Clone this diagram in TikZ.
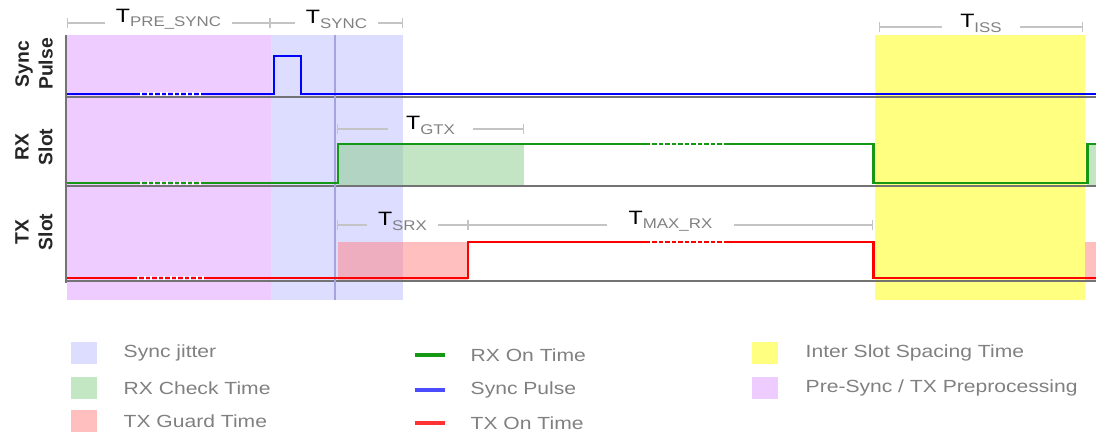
\documentclass[tikz,border=0pt]{standalone}
\usepackage{fontspec}
\setmainfont{Liberation Sans}
\usetikzlibrary{positioning,arrows.meta,calc}

\definecolor{presync}{HTML}{EECCFF}
\definecolor{jitter}{HTML}{DDDDFF}
\definecolor{issfill}{HTML}{FFFF80}
\definecolor{rxfill}{HTML}{88CC88}
\definecolor{txfill}{HTML}{FF8080}
\definecolor{rxline}{HTML}{159915}
\definecolor{syncline}{HTML}{0000FF}
\definecolor{txline}{HTML}{FF0000}
\definecolor{dimgray}{HTML}{C4C4C4}
\definecolor{txtgray}{HTML}{808080}
\definecolor{marker}{HTML}{A4A4DC}

% text in the reference is stretched sideways
\newcommand{\wide}[1]{\scalebox{1.2}[1]{#1}}
\newcommand{\tlab}[1]{\wide{{\fontsize{11}{11}\selectfont T}\raisebox{-2.5pt}{\fontsize{8}{8}\selectfont\color{txtgray}#1}}}

\begin{document}
\begin{tikzpicture}[x=0.02cm, y=-0.02cm,
  axisline/.style={draw=black!55, line width=1.1pt},
  sig/.style={line width=1.7pt},
  dimline/.style={draw=dimgray, line width=0.8pt},
  dimbar/.style={dimline, {Bar[width=6pt]}-},
  dimlabel/.style={inner xsep=6pt, inner ysep=0.5pt, yshift=2pt},
  breakmark/.style={draw=white, line width=2.2pt, dash pattern=on 1.3pt off 2.4pt},
  rowlabel/.style={rotate=90, align=center, text=black!85,
    font=\fontsize{11}{13.5}\selectfont\bfseries},
  swatch/.style={minimum width=5.2mm, minimum height=4.4mm, inner sep=0pt},
  keyline/.style={minimum width=6mm, minimum height=0.75mm, inner sep=0pt},
  keytext/.style={anchor=west, inner sep=0pt, text=txtgray,
    font=\fontsize{10}{12}\selectfont}]
  \useasboundingbox (0,0) rectangle (1096,432);

  % shaded time windows
  \fill[presync] (67,35) rectangle (271,300);
  \fill[jitter]  (271,35) rectangle (403,300);
  \fill[issfill] (875,35) rectangle (1085,300);
  \fill[rxfill, fill opacity=0.5] (338,144) rectangle (524,185);
  \fill[rxfill, fill opacity=0.5] (1087,144) rectangle (1096,185);
  \fill[txfill, fill opacity=0.5] (338,242) rectangle (468,280);
  \fill[txfill, fill opacity=0.5] (1085,242) rectangle (1096,280);

  % axes
  \draw[axisline] (66,35) -- (66,283);
  \draw[axisline] (67,97) -- (1096,97);
  \draw[axisline] (67,186) -- (1096,186);
  \draw[axisline] (67,281) -- (1096,281);
  \draw[marker, line width=1pt] (335,35) -- (335,300);

  % signals
  \draw[sig, syncline] (67,94) -- (274,94) -- (274,56) -- (301,56) -- (301,94) -- (1096,94);
  \draw[sig, rxline] (67,183) -- (338,183) -- (338,144) -- (873,144)
    -- (873,183) -- (1087,183) -- (1087,144) -- (1096,144);
  \draw[sig, txline] (67,278) -- (468,278) -- (468,242) -- (873,242)
    -- (873,278) -- (1096,278);

  % breaks in the time axis
  \draw[breakmark] (140,94) -- (202,94);
  \draw[breakmark] (140,183) -- (202,183);
  \draw[breakmark] (137,278) -- (207,278);
  \draw[breakmark] (650,144) -- (727,144);
  \draw[breakmark] (650,242) -- (727,242);

  % row labels
  \node[rowlabel] (syncrow) at (34,64)  {Sync\\Pulse};
  \node[rowlabel] (rxrow)   at (34,147) {RX\\Slot};
  \node[rowlabel] (txrow)   at (34,232) {TX\\Slot};

  % dimensions
  \coordinate (pre0) at (67,23);
  \coordinate (pre1) at (270,23);
  \coordinate (syn1) at (403,23);
  \coordinate (gtx0) at (337,129);
  \coordinate (gtx1) at (524,129);
  \coordinate (srx0) at (337,225);
  \coordinate (srx1) at (468,225);
  \coordinate (mrx1) at (873,225);
  \coordinate (iss0) at (879,27);
  \coordinate (iss1) at (1083,27);
  \node[dimlabel] (tpre)  at ($(pre0)!0.5!(pre1)$) {\tlab{PRE\_SYNC}};
  \node[dimlabel] (tsync) at ($(pre1)!0.5!(syn1)$) {\tlab{SYNC}};
  \node[dimlabel, inner xsep=10pt] (tgtx) at ($(gtx0)!0.5!(gtx1)$) {\tlab{GTX}};
  \node[dimlabel] (tsrx)  at ($(srx0)!0.5!(srx1)$) {\tlab{SRX}};
  \node[dimlabel, inner xsep=12pt] (tmrx) at ($(srx1)!0.5!(mrx1)$) {\tlab{MAX\_RX}};
  \node[dimlabel, inner xsep=10pt] (tiss) at ($(iss0)!0.5!(iss1)$) {\tlab{ISS}};
  \draw[dimbar] (pre0) -- (pre0 -| tpre.west);
  \draw[dimbar] (pre1) -- (pre1 -| tpre.east);
  \draw[dimbar] (pre1) -- (pre1 -| tsync.west);
  \draw[dimbar] (syn1) -- (syn1 -| tsync.east);
  \draw[dimbar] (gtx0) -- (gtx0 -| tgtx.west);
  \draw[dimbar] (gtx1) -- (gtx1 -| tgtx.east);
  \draw[dimbar] (srx0) -- (srx0 -| tsrx.west);
  \draw[dimbar] (srx1) -- (srx1 -| tsrx.east);
  \draw[dimbar] (srx1) -- (srx1 -| tmrx.west);
  \draw[dimbar] (mrx1) -- (mrx1 -| tmrx.east);
  \draw[dimbar] (iss0) -- (iss0 -| tiss.west);
  \draw[dimbar] (iss1) -- (iss1 -| tiss.east);

  % legend
  \node[swatch, fill=jitter]  (kjit) at (84,353) {};
  \node[swatch, fill=rxfill!50] (kchk) at (84,388) {};
  \node[swatch, fill=txfill!50] (kgrd) at (84,421) {};
  \node[keytext, right=5.2mm of kjit] (tjit) {\wide{Sync jitter}};
  \node[keytext, right=5.2mm of kchk] (tchk) {\wide{RX Check Time}};
  \node[keytext, right=5.2mm of kgrd] (tgrd) {\wide{TX Guard Time}};

  \node[keyline, fill=rxline]   (kron) at (430,355) {};
  \node[keyline, fill=syncline!70] (kpul) at (430,390) {};
  \node[keyline, fill=txline!80]   (kton) at (430,423) {};
  \node[keytext, right=5mm of kron] (tron) {\wide{RX On Time}};
  \node[keytext, right=5mm of kpul] (tpul) {\wide{Sync Pulse}};
  \node[keytext, right=5mm of kton] (tton) {\wide{TX On Time}};

  \node[swatch, fill=issfill] (kiss) at (765,353) {};
  \node[swatch, fill=presync] (kpre) at (765,388) {};
  \node[keytext, right=5.4mm of kiss] (tiss2) {\wide{Inter Slot Spacing Time}};
  \node[keytext, right=5.4mm of kpre] (tpre2) {\wide{Pre-Sync / TX Preprocessing}};
\end{tikzpicture}
\end{document}
